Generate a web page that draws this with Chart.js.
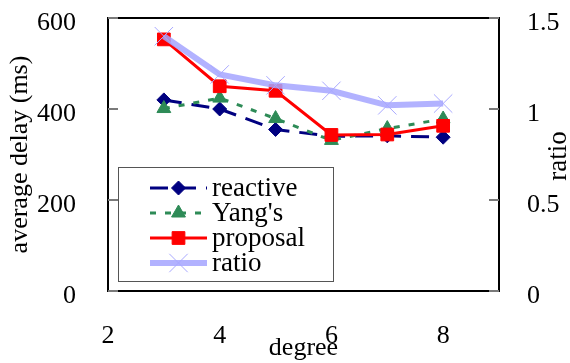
<!DOCTYPE html>
<html>
<head>
<meta charset="utf-8">
<script src="https://cdn.jsdelivr.net/npm/chart.js@4/dist/chart.umd.min.js"></script>
<style>
  html, body { margin: 0; padding: 0; background: #fff; }
  #wrap { width: 570px; height: 363px; }
</style>
</head>
<body>
<div id="wrap"><canvas id="c"></canvas></div>
<script>
// node degree on the x axis
const degrees = [3, 4, 5, 6, 7, 8];
// average delay in ms
const reactive = [420, 400, 355, 340, 341, 338];
const yangs    = [401, 424, 379, 331, 357, 378];
const proposal = [553, 450, 440, 343, 344, 363];
// ratio, right axis
const ratio    = [1.40, 1.19, 1.13, 1.10, 1.02, 1.03];

const xTicks     = [2, 4, 6, 8];
const delayTicks = [0, 200, 400, 600];
const ratioTicks = [0, 0.5, 1, 1.5];

const FONT = "'Liberation Serif', 'Times New Roman', serif";
const pts = arr => degrees.map((d, i) => ({ x: d, y: arr[i] }));

// frame, inward tick marks, boxed legend and the right-hand title
const decorations = {
  id: 'decorations',
  beforeDatasetsDraw(chart) {
    const { ctx, chartArea: a, scales } = chart;
    ctx.save();
    ctx.strokeStyle = '#000';
    ctx.lineWidth = 2;
    ctx.strokeRect(a.left, a.top, a.right - a.left, a.bottom - a.top);
    ctx.strokeStyle = '#7a7a7a';
    ctx.lineWidth = 2;
    scales.y.ticks.forEach(t => {
      const y = Math.round(scales.y.getPixelForValue(t.value));
      ctx.beginPath();
      ctx.moveTo(a.left, y); ctx.lineTo(a.left + 10, y);
      ctx.moveTo(a.right - 10, y); ctx.lineTo(a.right, y);
      ctx.stroke();
    });
    ctx.restore();
  },
  afterDatasetsDraw(chart) {
    const { ctx } = chart;
    ctx.save();
    // legend box
    ctx.fillStyle = '#fff';
    ctx.fillRect(118, 167, 215, 114);
    ctx.strokeStyle = '#555';
    ctx.lineWidth = 1;
    ctx.strokeRect(118.5, 167.5, 215, 114);
    const rows = [188, 213, 238, 263];
    chart.data.datasets.forEach((ds, i) => {
      const y = rows[i];
      ctx.save();
      ctx.strokeStyle = ds.borderColor;
      ctx.lineWidth = ds.borderWidth;
      ctx.setLineDash(ds.borderDash || []);
      ctx.beginPath();
      ctx.moveTo(150, y); ctx.lineTo(207, y);
      ctx.stroke();
      ctx.restore();
      ctx.save();
      ctx.fillStyle = ds.pointBackgroundColor;
      ctx.strokeStyle = ds.pointBorderColor;
      ctx.lineWidth = ds.pointBorderWidth;
      Chart.helpers.drawPoint(ctx, {
        pointStyle: ds.pointStyle,
        radius: ds.pointRadius,
        rotation: 0,
        borderWidth: ds.pointBorderWidth
      }, 178.5, y);
      ctx.restore();
      ctx.fillStyle = '#000';
      ctx.font = '27px ' + FONT;
      ctx.textAlign = 'left';
      ctx.textBaseline = 'middle';
      ctx.fillText(ds.label, 212, y + 1);
    });
    ctx.restore();
  },
  afterDraw(chart) {
    const { ctx } = chart;
    ctx.save();
    ctx.translate(559, 156);
    ctx.rotate(-Math.PI / 2);
    ctx.fillStyle = '#000';
    ctx.font = '27px ' + FONT;
    ctx.textAlign = 'center';
    ctx.textBaseline = 'middle';
    ctx.fillText('ratio', 0, 0);
    ctx.restore();
  }
};

const tickFont = { family: FONT, size: 26 };
const titleFont = { family: FONT, size: 26 };
const plainLabel = v => String(v);
const noVPad = s => { s.paddingTop = 0; s.paddingBottom = 0; };

new Chart(document.getElementById('c'), {
  type: 'line',
  data: {
    datasets: [
      {
        label: 'reactive', data: pts(reactive), yAxisID: 'y', order: 3,
        borderColor: '#000080', borderWidth: 3, borderDash: [18, 10],
        pointStyle: 'rectRot', pointRadius: 7,
        pointBackgroundColor: '#000080', pointBorderColor: '#000080', pointBorderWidth: 1
      },
      {
        label: "Yang's", data: pts(yangs), yAxisID: 'y', order: 2,
        borderColor: '#2e8b57', borderWidth: 3, borderDash: [6, 9],
        pointStyle: 'triangle', pointRadius: 8,
        pointBackgroundColor: '#2e8b57', pointBorderColor: '#2e8b57', pointBorderWidth: 1
      },
      {
        label: 'proposal', data: pts(proposal), yAxisID: 'y', order: 1,
        borderColor: '#ff0000', borderWidth: 3,
        pointStyle: 'rect', pointRadius: 9,
        pointBackgroundColor: '#ff0000', pointBorderColor: '#ff0000', pointBorderWidth: 1
      },
      {
        label: 'ratio', data: pts(ratio), yAxisID: 'y1', order: 0,
        borderColor: 'rgba(165,165,255,0.85)', borderWidth: 6,
        pointStyle: 'crossRot', pointRadius: 13,
        pointBackgroundColor: 'rgba(0,0,0,0)', pointBorderColor: '#a8a8ff', pointBorderWidth: 1
      }
    ]
  },
  options: {
    responsive: true,
    maintainAspectRatio: false,
    animation: false,
    devicePixelRatio: 1,
    layout: { padding: { top: 18, left: 0, right: 0, bottom: 0 } },
    plugins: { legend: { display: false }, tooltip: { enabled: false } },
    elements: { line: { tension: 0 } },
    scales: {
      x: {
        type: 'linear', position: 'bottom', min: 2, max: 9,
        afterBuildTicks: s => { s.ticks = xTicks.map(v => ({ value: v })); },
        afterFit: s => { s.height = 72; s.paddingLeft = 0; s.paddingRight = 0; },
        grid: { display: false }, border: { display: false },
        ticks: { font: tickFont, color: '#000', padding: 22, maxRotation: 0, callback: plainLabel },
        title: { display: true, text: 'degree', font: titleFont, color: '#000', padding: { top: 0, bottom: -1 } }
      },
      y: {
        type: 'linear', position: 'left', min: 0, max: 600,
        afterBuildTicks: s => { s.ticks = delayTicks.map(v => ({ value: v })); },
        afterFit: s => { s.width = 108; noVPad(s); },
        grid: { display: false }, border: { display: false },
        ticks: { font: tickFont, color: '#000', padding: 24, labelOffset: 5, callback: plainLabel },
        title: { display: true, text: 'average delay (ms)', font: titleFont, color: '#000', padding: { top: 5, bottom: 0 } }
      },
      y1: {
        type: 'linear', position: 'right', min: 0, max: 1.5,
        afterBuildTicks: s => { s.ticks = ratioTicks.map(v => ({ value: v })); },
        afterFit: s => { s.width = 71; noVPad(s); },
        grid: { display: false }, border: { display: false },
        ticks: { font: tickFont, color: '#000', padding: 20, labelOffset: 5, callback: plainLabel }
      }
    }
  },
  plugins: [decorations]
});
</script>
</body>
</html>
